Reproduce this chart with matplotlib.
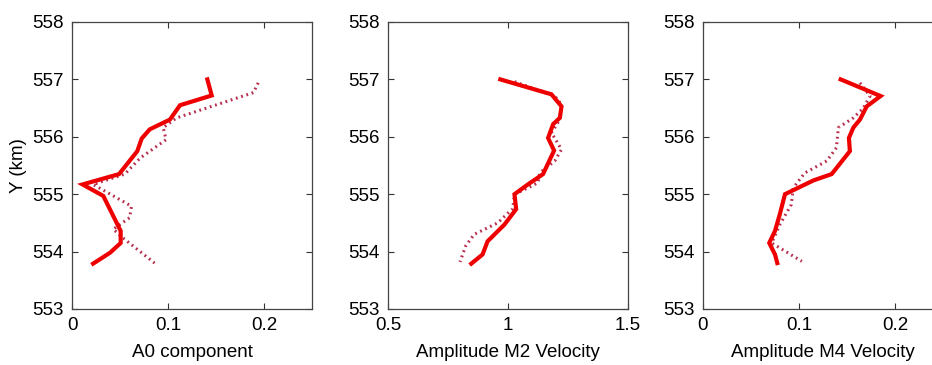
import matplotlib
matplotlib.use("Agg")
import matplotlib.pyplot as plt

plt.rcParams['font.family'] = ['Liberation Sans', 'DejaVu Sans']

# Panel 1: A0 component
a0_solid_x = [0.141, 0.1455, 0.1125, 0.102, 0.081, 0.0726, 0.068, 0.049, 0.011, 0.0326, 0.0507, 0.0507, 0.0396, 0.022]
a0_solid_y = [557.0, 556.72, 556.55, 556.30, 556.13, 555.97, 555.75, 555.35, 555.17, 554.97, 554.36, 554.15, 553.98, 553.79]
a0_dot_x = [0.194, 0.189, 0.140, 0.109, 0.095, 0.098, 0.071, 0.055, 0.022, 0.040, 0.062, 0.060, 0.043, 0.053, 0.086]
a0_dot_y = [556.94, 556.77, 556.5, 556.33, 556.16, 555.95, 555.63, 555.35, 555.17, 555.0, 554.79, 554.59, 554.39, 554.24, 553.80]

# Panel 2: Amplitude M2 velocity
m2_solid_x = [0.968, 1.181, 1.223, 1.216, 1.188, 1.167, 1.192, 1.146, 1.083, 1.027, 1.034, 0.985, 0.915, 0.894, 0.847]
m2_solid_y = [557.0, 556.74, 556.53, 556.33, 556.22, 555.98, 555.76, 555.35, 555.17, 555.0, 554.74, 554.47, 554.18, 553.95, 553.79]
m2_dot_x = [1.027, 1.195, 1.223, 1.216, 1.181, 1.223, 1.195, 1.132, 1.125, 1.083, 1.027, 1.02, 0.957, 0.859, 0.824, 0.800]
m2_dot_y = [556.96, 556.71, 556.56, 556.30, 556.07, 555.78, 555.58, 555.37, 555.2, 555.11, 555.0, 554.75, 554.50, 554.30, 554.10, 553.82]

# Panel 3: Amplitude M4 velocity
m4_solid_x = [0.1434, 0.185, 0.1705, 0.1635, 0.1566, 0.152, 0.153, 0.134, 0.115, 0.0854, 0.080, 0.075, 0.069, 0.075, 0.0774]
m4_solid_y = [557.0, 556.71, 556.53, 556.30, 556.16, 555.98, 555.75, 555.35, 555.24, 555.0, 554.65, 554.36, 554.15, 553.95, 553.80]
m4_dot_x = [0.1635, 0.174, 0.167, 0.1566, 0.141, 0.139, 0.129, 0.106, 0.094, 0.092, 0.080, 0.0716, 0.103]
m4_dot_y = [556.94, 556.71, 556.5, 556.33, 556.16, 555.81, 555.58, 555.37, 555.11, 554.82, 554.47, 554.15, 553.83]

xlabels = ['A0 component', 'Amplitude M2 Velocity', 'Amplitude M4 Velocity']
xlims = [(0, 0.25), (0.5, 1.5), (0, 0.25)]
xticks = [[0, 0.1, 0.2], [0.5, 1, 1.5], [0, 0.1, 0.2]]
xticklabels = [['0', '0.1', '0.2'], ['0.5', '1', '1.5'], ['0', '0.1', '0.2']]
yticks = [553, 554, 555, 556, 557, 558]

W, H = 932, 365
fig = plt.figure(figsize=(W / 100, H / 100), dpi=100)
lefts = [72, 388, 703]
width = 240
top, bottom = 22, 309

data = [(a0_solid_x, a0_solid_y, a0_dot_x, a0_dot_y),
        (m2_solid_x, m2_solid_y, m2_dot_x, m2_dot_y),
        (m4_solid_x, m4_solid_y, m4_dot_x, m4_dot_y)]

for i in range(3):
    ax = fig.add_axes([lefts[i] / W, 1 - bottom / H, width / W, (bottom - top) / H])
    sx, sy, dx, dy = data[i]
    ax.plot(dx, dy, color='#b8304e', lw=2.2, linestyle=(0, (0.6, 1.2)), solid_capstyle='butt')
    ax.plot(sx, sy, color='#ee0000', lw=3.0, solid_joinstyle='miter')
    ax.set_xlim(*xlims[i])
    ax.set_ylim(553, 558)
    ax.set_xticks(xticks[i])
    ax.set_xticklabels(xticklabels[i])
    ax.set_yticks(yticks)
    ax.set_yticklabels([str(v) for v in yticks])
    ax.tick_params(direction='in', top=True, right=True, labelsize=13.5, length=4, width=0.8, pad=6, colors='#333333')
    ax.tick_params(labelcolor='black')
    for s in ax.spines.values():
        s.set_color('#444444')
        s.set_linewidth(0.9)
    ax.set_xlabel(xlabels[i], fontsize=13.5, labelpad=7)
    if i == 0:
        ax.set_ylabel('Y (km)', fontsize=13.5, labelpad=4)

fig.savefig('out.png', dpi=100)
